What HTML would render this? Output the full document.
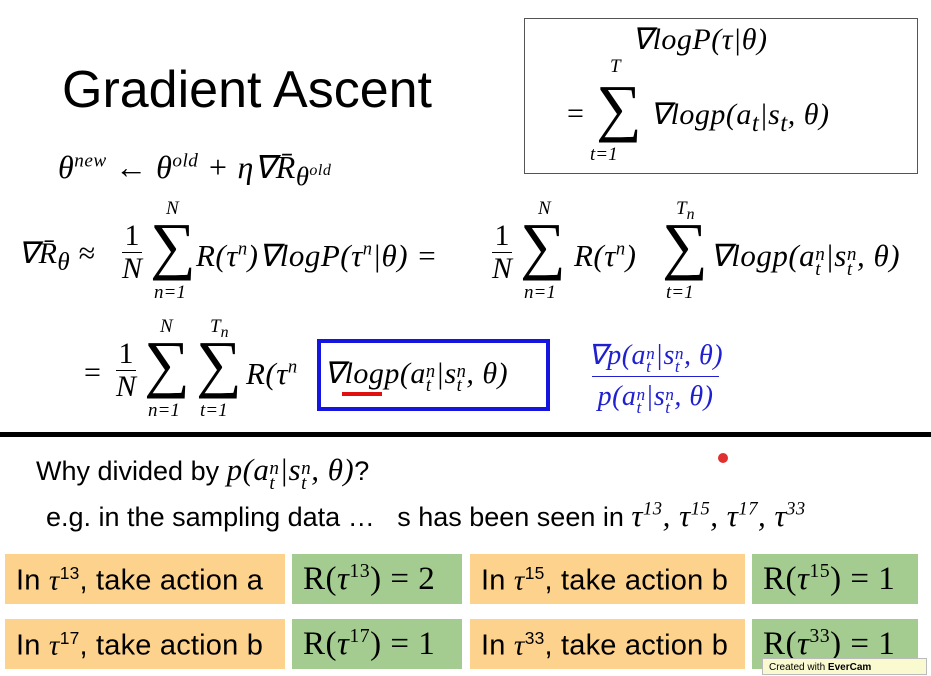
<!DOCTYPE html>
<html><head><meta charset="utf-8"><style>
body{margin:0;width:931px;height:675px;background:#fff;position:relative;overflow:hidden;font-family:"Liberation Serif",serif;}
.a{position:absolute;white-space:nowrap;}
.m{font-family:"Liberation Serif",serif;font-style:italic;letter-spacing:0.5px;}
.s{font-family:"Liberation Sans",sans-serif;}
.o{position:absolute;background:#fdd28c;}
.g{position:absolute;background:#a4cc90;}
.bt{font-family:"Liberation Sans",sans-serif;font-size:29px;position:absolute;top:9px;left:11px;letter-spacing:0.2px;}
.gt{font-size:33px;position:absolute;top:6px;left:11px;letter-spacing:0.5px;}
sup{font-size:60%;}
.st{display:inline-block;vertical-align:-0.45em;line-height:0.75;font-size:62%;text-align:left;}
.st span{display:block;}
.fr{position:absolute;font-style:normal;line-height:32px;text-align:center;font-size:30px;}
.fr i{display:block;border-top:1.5px solid #000;}
.sg{position:absolute;font-size:64px;line-height:1;}
.lm{position:absolute;font-size:19px;font-style:italic;}
</style></head><body>
<div class="a s" style="left:62px;top:60px;font-size:52px;">Gradient Ascent</div>
<div class="a" style="left:524px;top:18px;width:392px;height:154px;border:1.5px solid #555;"></div>
<div class="a m" style="left:632px;top:22px;font-size:30px;">∇logP(τ|θ)</div>
<div class="a" style="left:567px;top:97px;font-size:30px;">=</div>
<div class="sg" style="left:596px;top:76px;">∑</div>
<div class="lm" style="left:610px;top:56px;">T</div>
<div class="lm" style="left:590px;top:144px;">t=1</div>
<div class="a m" style="left:650px;top:97px;font-size:30px;">∇logp(a<sub>t</sub>|s<sub>t</sub>, θ)</div>

<div class="a m" style="left:58px;top:148px;font-size:32px;">θ<sup>new</sup> ← θ<sup>old</sup> + η∇R̄<sub>θ<sup>old</sup></sub></div>

<div class="a m" style="left:18px;top:236px;font-size:30px;">∇R̄<sub>θ</sub> ≈</div>
<div class="fr" style="left:122px;top:220px;">1<i>N</i></div>
<div class="sg" style="left:150px;top:214px;">∑</div>
<div class="lm" style="left:166px;top:198px;">N</div>
<div class="lm" style="left:154px;top:282px;">n=1</div>
<div class="a m" style="left:196px;top:238px;font-size:31px;">R(τ<sup>n</sup>)∇logP(τ<sup>n</sup>|θ) =</div>
<div class="fr" style="left:492px;top:220px;">1<i>N</i></div>
<div class="sg" style="left:520px;top:214px;">∑</div>
<div class="lm" style="left:538px;top:198px;">N</div>
<div class="lm" style="left:524px;top:282px;">n=1</div>
<div class="a m" style="left:574px;top:238px;font-size:31px;">R(τ<sup>n</sup>)</div>
<div class="sg" style="left:662px;top:214px;">∑</div>
<div class="lm" style="left:676px;top:198px;">T<sub>n</sub></div>
<div class="lm" style="left:666px;top:282px;">t=1</div>
<div class="a m" style="left:710px;top:238px;font-size:31px;">∇logp(a<span class="st"><span>n</span><span>t</span></span>|s<span class="st"><span>n</span><span>t</span></span>, θ)</div>

<div class="a" style="left:84px;top:356px;font-size:30px;">=</div>
<div class="fr" style="left:116px;top:338px;">1<i>N</i></div>
<div class="sg" style="left:144px;top:332px;">∑</div>
<div class="lm" style="left:160px;top:316px;">N</div>
<div class="lm" style="left:148px;top:400px;">n=1</div>
<div class="sg" style="left:196px;top:332px;">∑</div>
<div class="lm" style="left:210px;top:316px;">T<sub>n</sub></div>
<div class="lm" style="left:200px;top:400px;">t=1</div>
<div class="a m" style="left:246px;top:356px;font-size:31px;">R(τ<sup>n</sup></div>
<div class="a" style="left:317px;top:339px;width:225px;height:64px;border:4px solid #1515e0;"></div>
<div class="a m" style="left:324px;top:356px;font-size:30px;">∇logp(a<span class="st"><span>n</span><span>t</span></span>|s<span class="st"><span>n</span><span>t</span></span>, θ)</div>
<div class="a" style="left:342px;top:392px;width:40px;height:4px;background:#e01010;"></div>
<div class="a m" style="left:588px;top:336px;font-size:28px;color:#2020d0;text-align:center;line-height:40px;">∇p(a<span class="st"><span>n</span><span>t</span></span>|s<span class="st"><span>n</span><span>t</span></span>, θ)<br><span style="border-top:1.5px solid #2020d0;display:inline-block;padding:0 6px">p(a<span class="st"><span>n</span><span>t</span></span>|s<span class="st"><span>n</span><span>t</span></span>, θ)</span></div>

<div class="a" style="left:0;top:432px;width:931px;height:5px;background:#000;"></div>
<div class="a" style="left:718px;top:453px;width:10px;height:10px;border-radius:50%;background:#e03030;"></div>
<div class="a s" style="left:36px;top:452px;font-size:27px;">Why divided by <span class="m" style="font-size:31px">p(a<span class="st"><span>n</span><span>t</span></span>|s<span class="st"><span>n</span><span>t</span></span>, θ)</span>?</div>
<div class="a s" style="left:46px;top:498px;font-size:27px;">e.g. in the sampling data …&nbsp;&nbsp;&nbsp;s has been seen in <span class="m" style="font-size:31px">τ<sup>13</sup>, τ<sup>15</sup>, τ<sup>17</sup>, τ<sup>33</sup></span></div>

<div class="o" style="left:5px;top:554px;width:280px;height:50px;"><span class="bt">In <i class="m">τ</i><sup>13</sup>, take action a</span></div>
<div class="g" style="left:292px;top:554px;width:170px;height:50px;"><span class="gt">R(<i>τ</i><sup>13</sup>) = 2</span></div>
<div class="o" style="left:470px;top:554px;width:275px;height:50px;"><span class="bt">In <i class="m">τ</i><sup>15</sup>, take action b</span></div>
<div class="g" style="left:752px;top:554px;width:166px;height:50px;"><span class="gt">R(<i>τ</i><sup>15</sup>) = 1</span></div>
<div class="o" style="left:5px;top:619px;width:280px;height:50px;"><span class="bt">In <i class="m">τ</i><sup>17</sup>, take action b</span></div>
<div class="g" style="left:292px;top:619px;width:170px;height:50px;"><span class="gt">R(<i>τ</i><sup>17</sup>) = 1</span></div>
<div class="o" style="left:470px;top:619px;width:275px;height:50px;"><span class="bt">In <i class="m">τ</i><sup>33</sup>, take action b</span></div>
<div class="g" style="left:752px;top:619px;width:166px;height:50px;"><span class="gt">R(<i>τ</i><sup>33</sup>) = 1</span></div>
<div class="a s" style="left:762px;top:658px;width:165px;height:17px;background:#fafad0;border:1px solid #bbb;font-size:10px;line-height:17px;padding-left:6px;box-sizing:border-box;">Created with <b>EverCam</b></div>
</body></html>
